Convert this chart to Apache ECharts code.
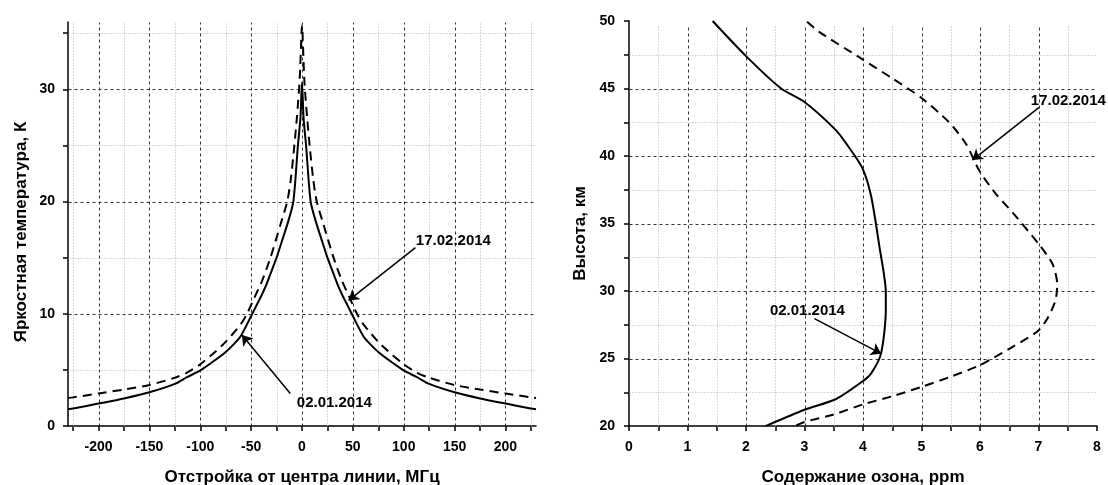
<!DOCTYPE html>
<html>
<head>
<meta charset="utf-8">
<script src="https://cdn.jsdelivr.net/npm/echarts@6/dist/echarts.min.js"></script>
<style>
  html, body { margin: 0; padding: 0; background: #fff; }
  #chart { width: 1108px; height: 485px; }
</style>
</head>
<body>
<div id="chart"></div>
<script>
// left panel: brightness temperature vs detuning
var detSolid = [-230, -225, -200, -175, -150, -125, -113, -100, -88, -75, -67, -60, -50, -45, -40, -35, -30, -25, -20, -14, -8.5, -4, -1.5, 0,
                1.5, 4, 8.5, 14, 20, 25, 30, 35, 40, 45, 50, 60, 67, 75, 88, 100, 113, 125, 150, 175, 200, 225, 230];
var tbSolid = [1.5, 1.55, 2.0, 2.45, 3.0, 3.75, 4.35, 4.95, 5.7, 6.6, 7.3, 8.05, 9.8, 10.7, 11.6, 12.6, 13.8, 15.0, 16.4, 18.1, 20.0, 25.0, 27.5, 30.6,
               27.5, 25.0, 20.0, 18.1, 16.4, 15.0, 13.8, 12.6, 11.6, 10.7, 9.8, 8.05, 7.3, 6.6, 5.7, 4.95, 4.35, 3.75, 3.0, 2.45, 2.0, 1.55, 1.5];
var detDashed = [-230, -225, -200, -175, -150, -125, -113, -100, -88, -75, -60, -54, -47, -39, -31, -21, -14.5, -11, -7.5, -5, -2.5, -1.7, 0,
                 1.7, 2.5, 5, 7.5, 11, 14.5, 21, 31, 39, 47, 54, 60, 75, 88, 100, 113, 125, 150, 175, 200, 225, 230];
var tbDashed = [2.5, 2.55, 2.9, 3.25, 3.65, 4.3, 4.75, 5.5, 6.4, 7.5, 9.1, 10.0, 11.4, 13.0, 15.0, 18.0, 20.0, 22.0, 25.0, 27.5, 30.5, 32.1, 35.7,
                32.1, 30.5, 27.5, 25.0, 22.0, 20.0, 18.0, 15.0, 13.0, 11.4, 10.0, 9.1, 7.5, 6.4, 5.5, 4.75, 4.3, 3.65, 3.25, 2.9, 2.55, 2.5];

// right panel: ozone profile
var ozoneSolid = [2.34, 3.0, 3.54, 3.99, 4.14, 4.31, 4.39, 4.39, 4.28, 4.14, 3.99, 3.75, 3.54, 3.0, 2.6, 2.0, 1.43];
var altSolid = [20, 21.2, 22.0, 23.3, 23.9, 25.4, 28.6, 29.9, 33.3, 37.0, 39.1, 40.7, 41.9, 44.0, 45.0, 47.4, 50];
var ozoneDashed = [2.86, 3.0, 3.5, 4.0, 4.5, 5.0, 5.5, 6.0, 6.21, 6.55, 6.98, 7.15, 7.29, 7.32, 7.24, 7.0, 6.55, 6.27, 5.99, 5.76, 5.47, 5.0, 4.5, 3.94, 3.25, 3.03];
var altDashed = [20.05, 20.3, 20.85, 21.6, 22.2, 22.9, 23.65, 24.5, 25.0, 25.85, 27.0, 27.95, 29.3, 30.5, 32.0, 33.5, 35.85, 37.2, 38.9, 40.9, 42.5, 44.3, 45.75, 47.3, 49.2, 50];

// axis ticks / grid values
var detTicks = [-225, -200, -175, -150, -125, -100, -75, -50, -25, 0, 25, 50, 75, 100, 125, 150, 175, 200, 225];
var detLabels = [-200, -150, -100, -50, 0, 50, 100, 150, 200];
var detMajor = [-200, -150, -100, -50, 0, 50, 100, 150, 200];
var detMinor = [-225, -175, -125, -75, -25, 25, 75, 125, 175, 225];
var tbTicks = [0, 5, 10, 15, 20, 25, 30, 35];
var tbLabels = [0, 10, 20, 30];
var tbMajor = [10, 20, 30];
var tbMinor = [5, 15, 25, 35];
var ozMajor = [1, 2, 3, 4, 5, 6, 7];
var ozMinor = [0.5, 1.5, 2.5, 3.5, 4.5, 5.5, 6.5, 7.5];
var altMajor = [25, 30, 35, 40, 45];
var altMinor = [22.5, 27.5, 32.5, 37.5, 42.5, 47.5];

// annotations: [text position, arrow start, arrow end]
var noteLeftSolid = [[31.8, 2.05], [-11.5, 2.9], [-59, 8.1]];
var noteLeftDashed = [[148.8, 16.5], [111.5, 15.9], [45.8, 11.2]];
var noteRightSolid = [[3.05, 28.5], [3.17, 27.96], [4.31, 25.36]];
var noteRightDashed = [[7.51, 44.1], [7.01, 43.6], [5.87, 39.7]];

var FONT = '"Liberation Sans", Arial, sans-serif';
var chart = echarts.init(document.getElementById('chart'));

function zip(a, b) {
  return a.map(function (v, i) { return [v, b[i]]; });
}

var majorStyle = { stroke: '#333', lineWidth: 1, lineDash: [3, 3] };
var minorStyle = { stroke: '#b0b0b0', lineWidth: 1, lineDash: [1, 2] };

// grid lines drawn through the axis scales
function gridLines(idx, values, vertical, range, style) {
  return {
    type: 'custom',
    xAxisIndex: idx, yAxisIndex: idx,
    silent: true, z: 1,
    data: values.map(function (v) { return vertical ? [v, range[0]] : [range[0], v]; }),
    renderItem: function (params, api) {
      var a, b;
      if (vertical) {
        a = api.coord([api.value(0), range[0]]);
        b = api.coord([api.value(0), range[1]]);
      } else {
        a = api.coord([range[0], api.value(1)]);
        b = api.coord([range[1], api.value(1)]);
      }
      var fx = function (p) { return Math.round(p) + 0.5; };
      return {
        type: 'line',
        shape: { x1: fx(a[0]), y1: fx(a[1]), x2: fx(b[0]), y2: fx(b[1]) },
        style: style
      };
    }
  };
}

function note(text, pts) {
  return {
    markLine: {
      silent: true, animation: false,
      symbol: ['none', 'arrow'], symbolSize: 10,
      label: { show: false },
      lineStyle: { color: '#000', width: 1.5, type: 'solid' },
      data: [[{ coord: pts[1] }, { coord: pts[2] }]]
    },
    markPoint: {
      silent: true, animation: false,
      symbol: 'circle', symbolSize: 0,
      label: { show: true, position: 'inside', formatter: text, color: '#000', fontWeight: 'bold', fontSize: 15, fontFamily: FONT },
      data: [{ coord: pts[0] }]
    }
  };
}

function curve(idx, data, dashed, ann, text) {
  var n = note(text, ann);
  return {
    type: 'line', xAxisIndex: idx, yAxisIndex: idx,
    data: data, showSymbol: false, symbol: 'none', z: 3,
    smooth: 0.25,
    lineStyle: { color: '#000', width: 2, type: dashed ? [9, 6] : 'solid' },
    markLine: n.markLine, markPoint: n.markPoint
  };
}

var axisText = { color: '#000', fontWeight: 'bold', fontSize: 14, fontFamily: FONT };
var nameText = { color: '#000', fontWeight: 'bold', fontSize: 17, fontFamily: FONT };
var axLine = { show: true, onZero: false, lineStyle: { color: '#000', width: 1.5 } };
var tick = { show: true, length: 5, lineStyle: { color: '#000', width: 1.5 } };

var option = {
  animation: false,
  grid: [
    { left: 68, top: 22, width: 468, height: 404, containLabel: false, outerBoundsMode: 'none' },
    { left: 629, top: 21, width: 468, height: 405, containLabel: false, outerBoundsMode: 'none' }
  ],
  xAxis: [
    {
      type: 'value', gridIndex: 0, min: -230, max: 230,
      name: 'Отстройка от центра линии, МГц', nameLocation: 'middle', nameGap: 43, nameTextStyle: nameText,
      axisLine: axLine,
      axisTick: Object.assign({ customValues: detTicks }, tick),
      axisLabel: Object.assign({ customValues: detLabels, margin: 14 }, axisText),
      splitLine: { show: false }
    },
    {
      type: 'value', gridIndex: 1, min: 0, max: 8, interval: 1,
      name: 'Содержание озона, ppm', nameLocation: 'middle', nameGap: 43, nameTextStyle: nameText,
      axisLine: axLine, axisTick: tick,
      minorTick: { show: true, splitNumber: 2, length: 5, lineStyle: { color: '#000', width: 1.5 } },
      axisLabel: Object.assign({ margin: 14 }, axisText),
      splitLine: { show: false }
    }
  ],
  yAxis: [
    {
      type: 'value', gridIndex: 0, min: 0, max: 36,
      name: 'Яркостная температура, К', nameLocation: 'middle', nameGap: 38, nameTextStyle: Object.assign({ padding: [0, 16, 0, 0] }, nameText),
      axisLine: axLine,
      axisTick: Object.assign({ customValues: tbTicks }, tick),
      axisLabel: Object.assign({ customValues: tbLabels, margin: 13 }, axisText),
      splitLine: { show: false }
    },
    {
      type: 'value', gridIndex: 1, min: 20, max: 50, interval: 5,
      name: 'Высота, км', nameLocation: 'middle', nameGap: 40, nameTextStyle: Object.assign({ padding: [0, 20, 0, 0] }, nameText),
      axisLine: axLine, axisTick: tick,
      minorTick: { show: true, splitNumber: 2, length: 5, lineStyle: { color: '#000', width: 1.5 } },
      axisLabel: Object.assign({ margin: 14 }, axisText),
      splitLine: { show: false }
    }
  ],
  series: [
    gridLines(0, detMinor, true, [0, 36], minorStyle),
    gridLines(0, tbMinor, false, [-230, 230], minorStyle),
    gridLines(0, detMajor, true, [0, 36], majorStyle),
    gridLines(0, tbMajor, false, [-230, 230], majorStyle),
    gridLines(1, ozMinor, true, [20, 49.8], minorStyle),
    gridLines(1, altMinor, false, [0, 8], minorStyle),
    gridLines(1, ozMajor, true, [20, 49.8], majorStyle),
    gridLines(1, altMajor, false, [0, 8], majorStyle),
    curve(0, zip(detSolid, tbSolid), false, noteLeftSolid, '02.01.2014'),
    curve(0, zip(detDashed, tbDashed), true, noteLeftDashed, '17.02.2014'),
    curve(1, zip(ozoneSolid, altSolid), false, noteRightSolid, '02.01.2014'),
    curve(1, zip(ozoneDashed, altDashed), true, noteRightDashed, '17.02.2014')
  ]
};
chart.setOption(option);
</script>
</body>
</html>
